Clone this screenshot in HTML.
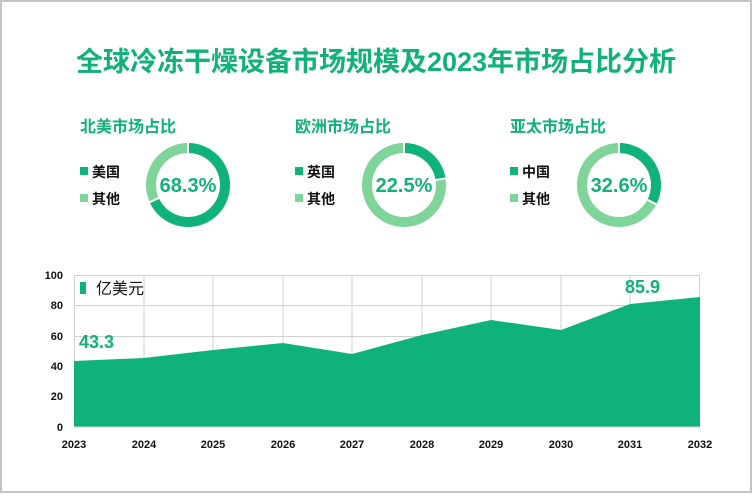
<!DOCTYPE html>
<html><head><meta charset="utf-8"><style>
body{margin:0;background:#fff;}
svg text{font-family:"Liberation Sans","Noto Sans CJK SC",sans-serif;}
</style></head><body>
<svg width="752" height="493" viewBox="0 0 752 493" xmlns="http://www.w3.org/2000/svg">
<rect x="1" y="1" width="750" height="491" fill="#fff" stroke="#c4c4c4" stroke-width="2"/>
<text x="376" y="71" text-anchor="middle" font-size="27" font-weight="bold" fill="#12b07a">全球冷冻干燥设备市场规模及2023年市场占比分析</text>

<g font-weight="bold">
<text x="80" y="132" font-size="16" fill="#12b07a">北美市场占比</text>
<text x="295" y="132" font-size="16" fill="#12b07a">欧洲市场占比</text>
<text x="510" y="132" font-size="16" fill="#12b07a">亚太市场占比</text>

<rect x="80" y="167" width="8" height="8" fill="#10b27c"/><text x="92" y="177" font-size="14" fill="#111">美国</text>
<rect x="80" y="194" width="8" height="8" fill="#7fd49a"/><text x="92" y="204" font-size="14" fill="#111">其他</text>
<rect x="295" y="167" width="8" height="8" fill="#10b27c"/><text x="307" y="177" font-size="14" fill="#111">英国</text>
<rect x="295" y="194" width="8" height="8" fill="#7fd49a"/><text x="307" y="204" font-size="14" fill="#111">其他</text>
<rect x="510" y="167" width="8" height="8" fill="#10b27c"/><text x="522" y="177" font-size="14" fill="#111">中国</text>
<rect x="510" y="194" width="8" height="8" fill="#7fd49a"/><text x="522" y="204" font-size="14" fill="#111">其他</text>
</g>

<g fill="none" stroke-width="10">
<g transform="translate(188,185) rotate(-90)">
<circle r="37" stroke="#7fd49a"/>
<circle r="37" stroke="#10b27c" stroke-dasharray="158.8 300"/>
</g>
<g transform="translate(404,185) rotate(-90)">
<circle r="37" stroke="#7fd49a"/>
<circle r="37" stroke="#10b27c" stroke-dasharray="52.3 300"/>
</g>
<g transform="translate(619,185) rotate(-90)">
<circle r="37" stroke="#7fd49a"/>
<circle r="37" stroke="#10b27c" stroke-dasharray="75.8 300"/>
</g>
</g>
<g stroke="#fff" stroke-width="2">
<line x1="188" y1="185" x2="188" y2="140"/>
<line x1="188" y1="185" x2="188" y2="140" transform="rotate(245.9 188 185)"/>
<line x1="404" y1="185" x2="404" y2="140"/>
<line x1="404" y1="185" x2="404" y2="140" transform="rotate(81 404 185)"/>
<line x1="619" y1="185" x2="619" y2="140"/>
<line x1="619" y1="185" x2="619" y2="140" transform="rotate(117.4 619 185)"/>
</g>
<circle cx="188" cy="185" r="31" fill="#fff"/>
<circle cx="404" cy="185" r="31" fill="#fff"/>
<circle cx="619" cy="185" r="31" fill="#fff"/>
<g font-size="20" font-weight="bold" fill="#12b07a" text-anchor="middle">
<text x="188" y="192">68.3%</text>
<text x="404" y="192">22.5%</text>
<text x="619" y="192">32.6%</text>
</g>

<g stroke="#d0d0d0" stroke-width="1">
<line x1="74" y1="275.5" x2="700" y2="275.5"/>
<line x1="74" y1="305.5" x2="700" y2="305.5"/>
<line x1="74" y1="336.5" x2="700" y2="336.5"/>
<line x1="74" y1="366.5" x2="700" y2="366.5"/>
<line x1="74" y1="396.5" x2="700" y2="396.5"/>
<line x1="74.5" y1="275" x2="74.5" y2="427"/>
<line x1="144" y1="275" x2="144" y2="427"/>
<line x1="213" y1="275" x2="213" y2="427"/>
<line x1="283" y1="275" x2="283" y2="427"/>
<line x1="352" y1="275" x2="352" y2="427"/>
<line x1="422" y1="275" x2="422" y2="427"/>
<line x1="491" y1="275" x2="491" y2="427"/>
<line x1="561" y1="275" x2="561" y2="427"/>
<line x1="630" y1="275" x2="630" y2="427"/>
<line x1="699.5" y1="275" x2="699.5" y2="427"/>
</g>
<polygon fill="#10b27c" points="74,361 144,358 213,350 283,343 352,354 422,335 491,320 561,330 630,304 700,297 700,427 74,427"/>
<line x1="74" y1="427" x2="700" y2="427" stroke="#d0d0d0"/>

<g font-size="11" font-weight="bold" fill="#111" text-anchor="end">
<text x="63" y="279">100</text>
<text x="63" y="309">80</text>
<text x="63" y="340">60</text>
<text x="63" y="370">40</text>
<text x="63" y="400">20</text>
<text x="63" y="431">0</text>
</g>
<g font-size="11" font-weight="bold" fill="#111" text-anchor="middle">
<text x="74" y="448">2023</text><text x="144" y="448">2024</text><text x="213" y="448">2025</text>
<text x="283" y="448">2026</text><text x="352" y="448">2027</text><text x="422" y="448">2028</text>
<text x="491" y="448">2029</text><text x="561" y="448">2030</text><text x="630" y="448">2031</text>
<text x="700" y="448">2032</text>
</g>
<rect x="80" y="282" width="6" height="12" fill="#10b27c"/>
<text x="96" y="294" font-size="16" fill="#111">亿美元</text>
<text x="79" y="348" font-size="18" font-weight="bold" fill="#12b07a">43.3</text>
<text x="625" y="293" font-size="18" font-weight="bold" fill="#12b07a">85.9</text>
</svg>
</body></html>
